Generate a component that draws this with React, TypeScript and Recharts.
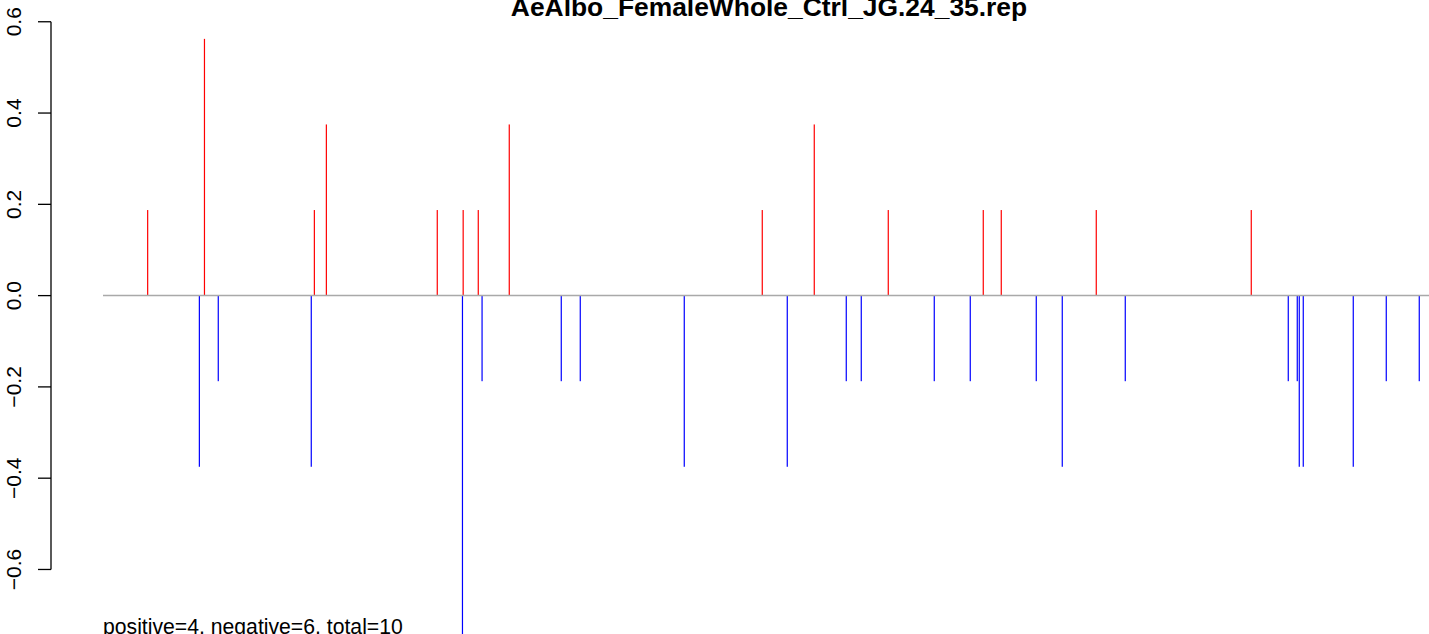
import React from "react";
import { BarChart, Bar, Cell, XAxis, YAxis, ReferenceLine } from "recharts";

// positions along the sequence (arbitrary units, plot spans 0..1378)
const positions = [
  96.7, 148.4, 153.5, 167.3, 260.3, 263.4, 275.4, 386.3, 411.5, 412.2, 427.3,
  431.1, 458.3, 510.3, 529.3, 633.3, 711.3, 736.3, 763.3, 795.3, 810.3, 837.3,
  883.3, 919.3, 932.3, 950.3, 985.3, 1011.3, 1045.3, 1074.3, 1200.3, 1237.3,
  1246.3, 1248.3, 1252.3, 1302.3, 1335.3, 1368.3,
];

const scores = [
  0.1875, -0.375, 0.5625, -0.1875, -0.375, 0.1875, 0.375, 0.1875, -0.75, 0.1875,
  0.1875, -0.1875, 0.375, -0.1875, -0.1875, -0.375, 0.1875, -0.375, 0.375,
  -0.1875, -0.1875, 0.1875, -0.1875, -0.1875, 0.1875, 0.1875, -0.1875, -0.375,
  0.1875, -0.1875, 0.1875, -0.1875, -0.1875, -0.375, -0.375, -0.375, -0.1875,
  -0.1875,
];

const yTicks = [-0.6, -0.4, -0.2, 0, 0.2, 0.4, 0.6];
const title = "AeAlbo_FemaleWhole_Ctrl_JG.24_35.rep";
const summary = "positive=4, negative=6, total=10";

const data = positions.map((pos, i) => ({ pos, score: scores[i] }));

const W = 1429;
const H = 643;
const AXIS_X = 51;
const FONT = "'Liberation Sans', Arial, Helvetica, sans-serif";

const fmt = (v: number) => (v < 0 ? "\u2212" + Math.abs(v).toFixed(1) : v.toFixed(1));

const YTick = (props: any) => {
  const { y, payload } = props;
  return (
    <g>
      <line x1={AXIS_X - 13} x2={AXIS_X} y1={y} y2={y} stroke="#000" strokeWidth={1.3} />
      <text
        transform={`translate(20.5, ${y}) rotate(-90)`}
        textAnchor="middle"
        fontSize={21}
        fontFamily={FONT}
        fill="#000"
      >
        {fmt(payload.value)}
      </text>
    </g>
  );
};

// thin vertical stick, like R's type="h"
const Stick = (props: any) => {
  const { x, y, width, height, fill } = props;
  const cx = x + width / 2;
  const top = Math.min(y, y + height);
  const h = Math.abs(height);
  return <rect x={cx - 0.6} y={top} width={1.2} height={h} fill={fill} />;
};

const App = () => {
  return (
    <div
      style={{
        position: "absolute",
        top: 0,
        left: 0,
        width: W,
        height: 634,
        overflow: "hidden",
        background: "#fff",
      }}
    >
      <BarChart
        width={W}
        height={H}
        data={data}
        margin={{ top: 3.5, right: 0, left: 0, bottom: 0.5 }}
        barSize={1}
      >
        <XAxis dataKey="pos" type="number" domain={[0, 1378]} hide />
        <YAxis
          type="number"
          domain={[-0.76, 0.64]}
          ticks={yTicks}
          width={AXIS_X}
          axisLine={false}
          tickLine={false}
          tick={<YTick />}
          interval={0}
        />
        <ReferenceLine
          segment={[
            { x: 52, y: 0 },
            { x: 1378, y: 0 },
          ]}
          stroke="#A9A9A9"
          strokeWidth={1.5}
          ifOverflow="visible"
        />
        <ReferenceLine
          segment={[
            { x: 0, y: -0.6 },
            { x: 0, y: 0.6 },
          ]}
          stroke="#000"
          strokeWidth={1.3}
          ifOverflow="visible"
        />
        <Bar dataKey="score" isAnimationActive={false} shape={<Stick />}>
          {data.map((d, i) => (
            <Cell key={i} fill={d.score > 0 ? "#FF0000" : "#0000FF"} />
          ))}
        </Bar>
      </BarChart>
      <svg
        width={W}
        height={634}
        style={{ position: "absolute", top: 0, left: 0, pointerEvents: "none" }}
      >
        <text
          x={769}
          y={15.5}
          textAnchor="middle"
          fontSize={26.4}
          fontWeight="bold"
          fontFamily={FONT}
          fill="#000"
        >
          {title}
        </text>
        <text x={103} y={634} fontSize={21.2} fontFamily={FONT} fill="#000">
          {summary}
        </text>
      </svg>
    </div>
  );
};

export default App;
